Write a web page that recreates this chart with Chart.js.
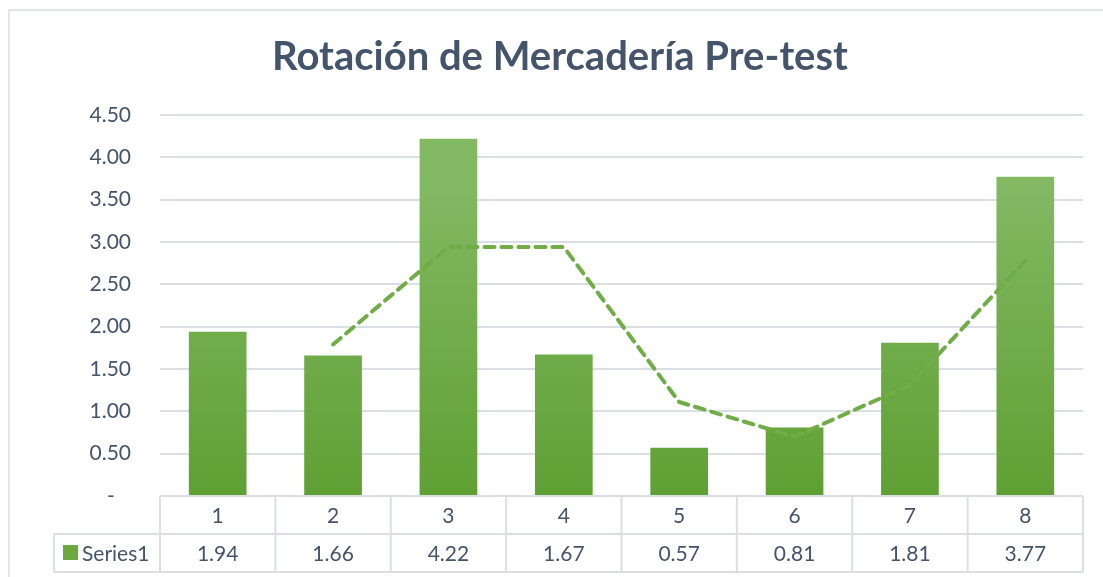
<!DOCTYPE html>
<html>
<head>
<meta charset="utf-8">
<script src="https://cdn.jsdelivr.net/npm/chart.js@4"></script>
<style>
  html, body { margin: 0; padding: 0; background: #fff; }
  #wrap { position: relative; width: 1103px; height: 577px; }
</style>
</head>
<body>
<div id="wrap"><canvas id="chart" width="1103" height="577"></canvas></div>
<script>
// datos
var categories = ['1', '2', '3', '4', '5', '6', '7', '8'];
var series1 = [1.94, 1.66, 4.22, 1.67, 0.57, 0.81, 1.81, 3.77];
var tableValues = ['1.94', '1.66', '4.22', '1.67', '0.57', '0.81', '1.81', '3.77'];
// línea de tendencia (media móvil)
var trendLine = [null, 1.79, 2.94, 2.94, 1.11, 0.70, 1.31, 2.78];
var seriesName = 'Series1';
var chartTitle = 'Rotación de Mercadería Pre-test';

var textColor = '#44546a';
var gridColor = '#dadfe6';
var fontFamily = 'Lato, "Open Sans", sans-serif';

// degradado por barra (más claro arriba)
var barGradient = {
  id: 'barGradient',
  beforeDatasetsDraw: function (chart) {
    var ctx = chart.ctx;
    chart.data.datasets.forEach(function (ds, i) {
      if (ds.type !== 'bar') return;
      chart.getDatasetMeta(i).data.forEach(function (el) {
        var g = ctx.createLinearGradient(0, el.y, 0, el.base);
        g.addColorStop(0, '#84b964');
        g.addColorStop(1, '#5fa033');
        el.options.backgroundColor = g;
      });
    });
  }
};

// tabla de datos debajo del eje
var dataTable = {
  id: 'dataTable',
  afterDraw: function (chart) {
    var ctx = chart.ctx;
    var xs = chart.scales.x;
    var area = chart.chartArea;
    var top = area.bottom;
    var mid = top + 38;
    var bottom = top + 76;
    var leftCell = 54;
    var step = (area.right - area.left) / categories.length;

    ctx.save();
    ctx.strokeStyle = gridColor;
    ctx.lineWidth = 2;
    ctx.beginPath();
    ctx.moveTo(area.left, top); ctx.lineTo(area.right, top);
    ctx.moveTo(leftCell, mid); ctx.lineTo(area.right, mid);
    ctx.moveTo(leftCell, bottom); ctx.lineTo(area.right, bottom);
    ctx.moveTo(leftCell, mid); ctx.lineTo(leftCell, bottom);
    for (var i = 0; i <= categories.length; i++) {
      var x = area.left + i * step;
      ctx.moveTo(x, top); ctx.lineTo(x, bottom);
    }
    ctx.stroke();

    // borde del gráfico
    ctx.strokeStyle = '#d9dce3';
    ctx.lineWidth = 1.5;
    ctx.beginPath();
    ctx.moveTo(9, 577); ctx.lineTo(9, 10); ctx.lineTo(1103, 10);
    ctx.stroke();

    ctx.fillStyle = textColor;
    ctx.font = '21px ' + fontFamily;
    ctx.textAlign = 'center';
    ctx.textBaseline = 'middle';
    categories.forEach(function (c, i) {
      var cx = xs.getPixelForValue(i);
      ctx.fillText(c, cx, (top + mid) / 2 + 1);
      ctx.fillText(tableValues[i], cx, (mid + bottom) / 2 + 1);
    });

    // clave de leyenda
    ctx.fillStyle = '#6aaa3e';
    ctx.fillRect(63, mid + 11, 15, 15);
    ctx.fillStyle = textColor;
    ctx.textAlign = 'left';
    ctx.fillText(seriesName, 82, (mid + bottom) / 2 + 1);
    ctx.restore();
  }
};

var ctx = document.getElementById('chart').getContext('2d');
new Chart(ctx, {
  data: {
    labels: categories,
    datasets: [{
      type: 'line',
      label: 'Tendencia',
      data: trendLine,
      borderColor: '#70ad47',
      borderWidth: 4,
      borderDash: [10, 7],
      borderCapStyle: 'round',
      borderJoinStyle: 'round',
      pointRadius: 0,
      tension: 0,
      fill: false,
      order: 0
    }, {
      type: 'bar',
      label: seriesName,
      data: series1,
      backgroundColor: '#70ad47',
      categoryPercentage: 1,
      barPercentage: 0.5,
      order: 1
    }]
  },
  options: {
    responsive: false,
    animation: false,
    layout: {
      padding: { left: 17, right: 0, top: 0, bottom: 81 }
    },
    scales: {
      x: {
        display: false,
        offset: true
      },
      y: {
        min: 0,
        max: 4.5,
        afterFit: function (scale) { scale.width = 143; },
        border: { display: false },
        grid: { color: gridColor, lineWidth: 2, drawTicks: false },
        ticks: {
          stepSize: 0.5,
          padding: 29,
          color: textColor,
          font: { size: 21, family: fontFamily },
          // formato contable: el cero sale como "-"
          callback: function (v) { return v === 0 ? '-   ' : v.toFixed(2); }
        }
      },
      // eje vacío a la derecha, solo reserva el margen
      yRight: {
        position: 'right',
        afterFit: function (scale) { scale.width = 20; },
        border: { display: false },
        grid: { display: false },
        ticks: { display: false }
      }
    },
    plugins: {
      legend: { display: false },
      tooltip: { enabled: false },
      title: {
        display: true,
        text: chartTitle,
        color: textColor,
        font: { size: 40, weight: 'bold', family: fontFamily },
        padding: { top: 33, bottom: 34 }
      }
    }
  },
  plugins: [barGradient, dataTable]
});
</script>
</body>
</html>
